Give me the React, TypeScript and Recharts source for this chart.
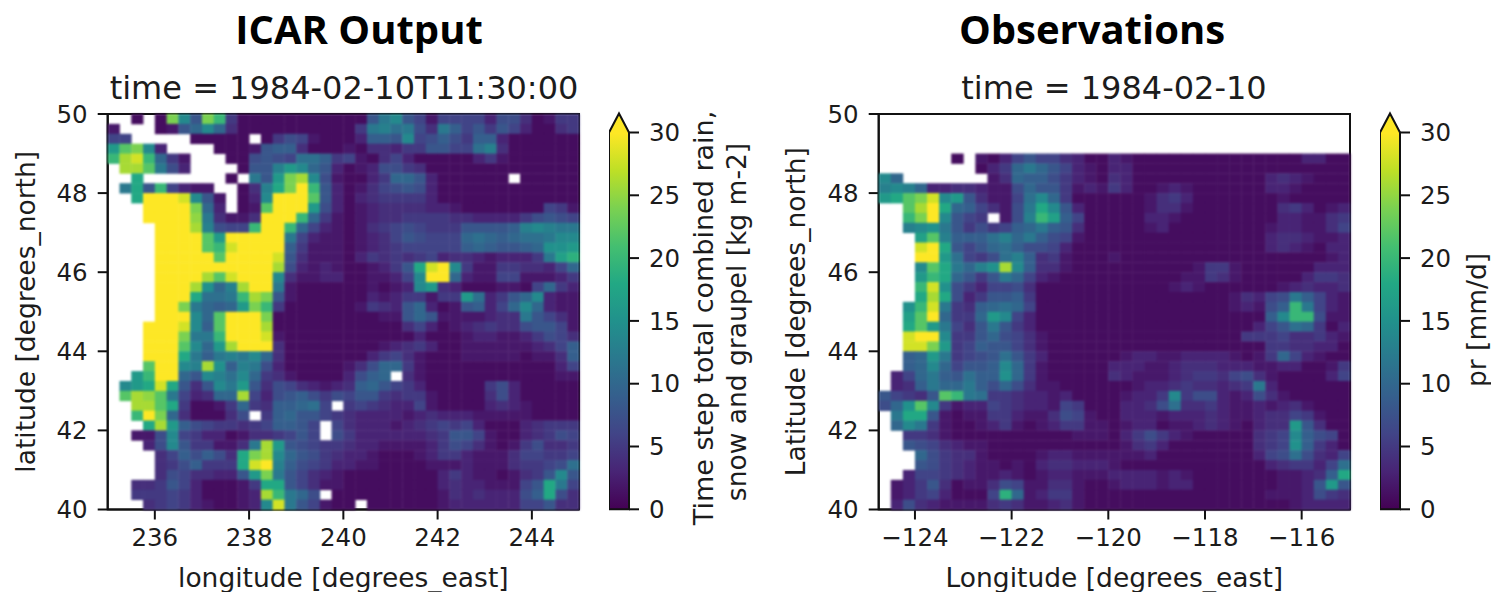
import { BarChart, Bar, ScatterChart, Scatter, XAxis, YAxis, ReferenceArea } from "recharts";

const _ = null;
type Row = (number | null)[];

// mm per cell, 0.25 degree grid, north to south
const icarRows: Row[] = [
  [_,_,1,_,1,24,14,8,24,20,5,1,1,1,1,1,1,1,1,1, 1,1,8,12,14,8,6,2,6,6,6,6,3,7,7,4,1,2,5,5],
  [2,_,_,_,1,2,8,10,14,10,4,1,1,1,1,1,1,1,1,1, 1,5,12,13,11,12,7,4,12,9,6,8,5,8,6,3,1,1,4,5],
  [6,6,_,_,_,_,_,1,1,1,1,1,_,1,5,7,6,2,1,1, 1,3,9,9,8,14,6,7,9,7,5,9,9,3,1,1,1,1,1,1],
  [16,22,24,14,3,_,_,_,_,1,1,1,2,8,9,9,4,1,1,1, 2,1,4,4,3,5,5,8,8,6,6,11,13,4,1,1,1,1,1,1],
  [20,26,28,20,10,5,2,_,_,_,1,1,7,8,7,6,11,11,9,5, 6,2,1,4,6,3,1,1,1,1,1,3,5,2,1,1,1,1,1,1],
  [_,26,26,22,12,7,3,_,_,_,_,1,8,8,13,16,14,10,8,3, 1,2,3,7,7,5,4,1,1,1,1,1,1,1,1,1,1,1,1,1],
  [_,_,18,_,_,_,_,_,_,_,1,_,12,8,16,24,26,14,7,2, 1,1,3,5,10,10,8,3,1,1,1,1,1,1,_,1,1,1,1,1],
  [_,12,18,8,20,6,3,2,2,_,_,1,4,13,18,24,30,20,8,3, 1,2,4,6,7,8,7,3,1,1,1,1,1,1,1,1,1,1,1,1],
  [_,_,18,30,30,30,28,14,8,2,_,1,3,14,30,30,30,22,8,3, 1,3,4,5,5,5,5,3,1,1,1,1,1,1,1,1,1,1,1,1],
  [_,_,_,30,30,30,30,24,10,3,_,1,2,22,30,30,30,16,7,3, 1,2,3,4,4,4,4,3,3,2,1,1,1,1,1,1,1,6,5,2],
  [_,_,_,30,30,30,30,25,12,4,2,2,4,30,30,30,20,10,5,2, 1,2,3,4,4,5,5,5,5,4,4,3,3,3,3,5,7,8,7,6],
  [_,_,_,_,30,30,30,26,13,7,6,6,20,30,30,20,10,6,3,2, 1,2,4,5,6,7,6,5,5,5,8,8,8,8,9,13,14,13,12,12],
  [_,_,_,_,30,30,30,30,22,16,30,30,30,30,30,12,6,3,2,2, 1,2,3,4,6,8,7,6,6,6,10,11,10,9,10,11,11,12,14,14],
  [_,_,_,_,30,30,30,30,22,20,28,30,30,30,30,9,5,2,2,2, 1,2,3,4,5,6,6,6,6,6,9,10,9,8,8,9,10,15,15,16],
  [_,_,_,_,30,30,30,30,30,22,30,30,30,30,28,8,4,2,2,2, 1,3,5,4,5,4,5,6,3,4,4,3,2,3,3,3,5,12,17,19],
  [_,_,_,_,30,30,30,30,30,30,30,30,30,30,26,7,3,2,3,2, 1,1,2,3,5,8,18,28,30,14,5,2,2,5,5,4,4,3,6,10],
  [_,_,_,_,30,30,30,30,26,22,28,30,30,30,14,4,2,2,3,3, 1,1,2,2,3,6,14,30,30,10,3,2,2,6,6,2,2,2,3,5],
  [_,_,_,_,30,30,30,26,15,10,13,26,30,30,12,2,1,1,1,1, 1,1,2,1,2,3,14,16,4,3,1,1,1,2,2,1,6,10,5,3],
  [_,_,_,_,30,30,30,18,11,11,12,20,26,24,8,2,1,1,1,1, 1,1,3,2,3,5,5,2,5,5,16,11,3,5,8,10,14,3,2,2],
  [_,_,_,_,30,30,24,12,10,9,10,16,24,20,5,1,1,1,1,1, 1,2,5,4,3,8,10,3,1,2,8,9,3,6,10,14,10,3,2,2],
  [_,_,_,_,30,30,30,14,10,22,30,30,30,24,1,1,1,1,1,1, 1,1,1,2,2,8,10,8,2,2,2,2,3,4,4,12,8,6,4,2],
  [_,_,_,30,30,30,28,14,9,22,30,30,30,26,1,1,1,1,1,1, 1,1,1,1,1,4,6,3,1,2,3,4,5,4,4,7,8,8,6,2],
  [_,_,_,30,30,30,24,12,12,20,30,30,30,28,2,1,1,1,1,1, 1,1,1,1,1,1,3,1,1,1,2,3,3,2,2,3,5,7,6,4],
  [_,_,_,30,30,30,22,14,10,16,26,30,30,30,4,1,1,1,1,1, 1,1,1,2,3,4,5,3,1,1,2,2,2,2,2,2,3,4,6,9],
  [_,_,_,30,30,30,18,12,9,12,13,12,14,10,4,1,1,1,1,1, 1,1,3,5,6,4,2,1,1,1,2,2,2,2,2,1,2,2,4,9],
  [_,_,_,22,30,30,14,13,26,15,9,13,12,7,3,1,1,1,1,1, 2,4,7,10,10,5,2,1,1,1,1,1,1,1,1,1,1,1,3,6],
  [_,_,16,20,30,30,10,8,14,13,11,14,10,5,4,2,1,1,1,1, 3,7,9,10,_,4,2,1,1,1,1,1,1,1,1,1,1,1,2,2],
  [_,14,16,18,28,18,8,4,8,14,12,16,8,4,7,6,4,3,2,3, 4,9,10,8,6,5,3,1,1,1,1,1,5,7,3,1,1,1,1,1],
  [_,22,26,25,22,12,6,3,4,10,10,26,6,3,7,8,9,7,5,7, 6,8,8,5,4,5,5,2,1,1,1,1,4,7,3,1,1,1,1,1],
  [_,_,26,26,22,18,5,1,1,2,5,10,5,4,9,9,10,11,6,_, 5,6,5,4,3,3,6,2,1,1,1,1,3,4,3,2,1,1,1,1],
  [_,_,20,30,24,10,4,1,1,1,4,7,_,5,9,10,8,8,6,5, 4,3,3,3,3,2,3,4,3,3,3,2,2,2,2,2,1,1,1,1],
  [_,_,_,18,26,16,9,7,6,5,5,4,5,6,9,9,8,6,_,6, 4,3,3,3,2,3,4,5,6,5,6,3,1,1,1,3,4,5,5,5],
  [_,_,2,2,7,14,6,5,3,3,1,2,4,4,5,6,8,6,_,7, 5,3,3,3,3,3,3,4,5,8,8,6,2,1,1,3,4,5,7,6],
  [_,_,_,3,7,14,8,5,5,2,2,4,12,26,16,8,7,6,5,5, 4,3,3,2,2,2,2,3,5,7,6,4,2,1,2,5,7,4,4,5],
  [_,_,_,_,4,6,9,7,9,7,4,18,24,26,14,10,8,7,5,4, 3,3,2,1,1,1,2,3,5,5,3,2,2,2,4,6,6,5,5,6],
  [_,_,_,_,4,5,7,9,5,5,5,18,28,30,13,9,7,6,5,3, 3,2,2,1,1,1,1,2,2,2,3,2,2,2,4,5,5,6,7,11],
  [_,_,_,_,4,7,6,4,4,3,3,8,16,24,12,8,6,4,3,2, 1,1,1,1,1,1,1,1,3,5,3,2,2,1,2,4,5,8,14,8],
  [_,_,4,4,5,8,6,3,1,1,1,2,5,18,18,8,6,4,2,2, 1,1,1,1,1,1,1,1,3,4,3,3,2,2,2,6,8,18,12,6],
  [_,_,5,5,5,6,5,3,1,1,1,2,3,26,20,12,10,7,_,1, 1,1,1,1,1,1,1,1,2,4,3,4,3,3,3,7,9,18,7,4],
  [_,_,_,4,5,6,5,3,2,1,1,2,3,14,28,12,8,6,2,1, 1,_,1,1,1,1,1,1,2,3,3,3,3,3,3,6,6,8,4,4],
];

const obsRows: Row[] = [
  [],
  [],
  [],
  [],
  [_,_,_,_,_,_,1,_,2,1,3,6,8,6,6,4,3,1,1, 3,2,1,1,1,1,1,1,1,1,1,1,1,1,1,1,3,3,1,1],
  [_,_,_,_,_,_,_,_,1,3,5,10,12,10,8,6,3,2,1, 3,3,1,1,1,1,1,1,1,1,1,1,1,1,1,1,1,1,1,1],
  [14,10,_,_,_,_,_,_,_,2,4,10,9,9,7,5,3,2,1, 4,3,1,1,1,1,1,1,1,1,1,1,1,3,4,3,2,1,1,1],
  [13,14,13,10,3,3,4,4,3,2,2,7,10,8,8,5,2,3,2, 5,3,1,1,2,3,2,1,1,1,1,1,1,3,3,2,1,1,1,1],
  [16,18,22,24,28,14,16,8,4,2,2,6,11,14,10,5,1,1,1, 1,1,1,2,4,5,3,1,1,1,1,1,1,1,2,1,1,1,1,1],
  [_,_,22,26,30,18,10,9,6,4,2,7,12,18,14,8,3,1,1, 1,1,1,2,4,4,2,1,1,1,1,1,1,1,4,5,3,1,2,3],
  [_,_,20,24,30,14,8,6,5,_,2,7,13,20,17,9,6,1,1, 1,1,1,3,3,2,1,1,1,1,1,1,1,1,3,3,2,2,4,5],
  [_,_,13,14,15,12,8,5,7,5,6,9,10,12,9,8,4,1,1, 1,1,1,2,3,1,1,1,1,1,1,1,1,2,3,3,2,2,4,6],
  [_,_,_,17,22,13,9,9,9,11,13,10,12,9,7,6,2,1,1, 1,1,1,1,1,1,1,1,1,1,1,1,1,3,4,4,3,2,2,3],
  [_,_,_,28,30,18,8,6,8,10,11,9,7,7,6,3,1,1,1, 1,1,1,1,1,1,1,1,1,1,1,1,1,3,4,3,2,1,3,3],
  [_,_,_,30,30,16,11,6,5,7,11,13,9,4,5,2,1,1,1, 2,1,1,1,1,1,1,1,1,1,1,1,1,1,1,1,1,1,2,3],
  [_,_,_,14,22,18,12,10,13,15,26,14,9,4,4,2,1,1,1, 1,1,1,1,1,1,1,2,5,5,2,1,1,1,1,1,1,3,3,3],
  [_,_,_,16,20,18,10,8,5,8,12,10,6,3,2,1,1,1,1, 1,1,1,1,1,1,2,2,5,4,2,1,1,1,1,1,3,5,5,4],
  [_,_,_,20,28,15,7,5,3,6,6,7,4,1,1,1,1,1,1, 1,1,1,1,1,2,3,2,1,1,1,1,1,1,2,3,4,3,3,4],
  [_,_,_,18,26,18,7,3,5,8,8,9,5,1,1,1,1,1,1, 1,1,1,1,1,1,1,1,1,1,2,4,3,6,7,12,9,6,3,2],
  [_,_,15,20,28,12,5,4,9,10,11,10,6,1,1,1,1,1,1, 1,1,1,1,1,1,1,1,1,1,2,3,2,7,9,20,12,6,3,2],
  [_,_,17,22,30,10,5,5,10,16,14,6,3,1,1,1,1,1,1, 1,1,1,1,1,1,1,1,1,1,1,1,1,9,14,20,20,7,2,2],
  [_,_,18,22,16,12,6,4,8,12,8,5,3,1,1,1,1,1,1, 1,1,1,1,1,1,1,1,1,1,1,1,3,6,8,11,10,5,1,3],
  [_,_,28,30,30,14,5,5,8,10,7,6,4,2,1,1,1,1,1, 1,1,1,1,1,1,1,1,1,1,1,5,5,5,6,4,4,5,3,2],
  [_,_,28,28,24,16,5,6,9,8,8,6,4,2,1,1,1,1,1, 1,1,1,1,1,1,1,1,1,1,1,1,1,5,5,4,4,3,3,1],
  [_,_,9,10,16,12,5,6,7,8,11,8,5,3,1,1,1,1,1, 1,2,3,3,2,2,3,3,3,3,2,1,2,5,10,6,3,2,1,1],
  [_,_,9,10,14,10,6,8,8,9,14,10,5,2,1,1,1,1,1, 3,3,3,2,2,3,4,4,4,3,3,3,2,2,3,3,1,1,2,5],
  [_,3,6,10,12,9,8,11,9,9,15,10,5,2,1,1,1,1,1, 4,3,2,2,2,3,4,5,5,4,6,7,4,2,1,1,1,1,3,6],
  [_,3,4,9,12,10,10,12,9,7,10,7,4,2,2,1,1,1,1, 1,1,2,3,3,4,5,4,4,3,4,5,12,3,1,1,1,1,1,1],
  [8,6,5,4,8,22,20,12,11,5,5,4,3,3,2,3,1,1,1, 1,2,3,3,5,14,5,7,7,3,2,3,7,4,2,1,1,1,1,1],
  [7,10,15,22,14,5,2,3,3,6,5,4,3,3,2,6,5,1,1, 1,3,3,4,7,11,4,4,5,3,2,2,3,2,3,4,2,1,1,1],
  [_,12,18,18,8,2,1,2,2,5,5,3,2,2,4,7,6,2,1, 1,3,3,3,2,3,3,3,4,3,2,2,3,4,4,6,5,2,1,1],
  [_,10,14,12,5,2,1,1,2,3,5,2,1,2,3,5,5,2,2, 1,2,3,3,1,2,2,3,4,3,2,1,3,4,4,16,8,4,1,1],
  [_,_,5,5,4,2,1,1,1,1,1,1,1,1,1,1,2,2,2, 1,3,5,7,5,3,2,1,1,1,1,1,4,5,6,14,9,7,6,1],
  [_,_,8,7,6,4,3,2,2,1,1,1,1,1,1,1,1,1,1, 1,2,4,5,3,1,1,1,1,1,1,1,4,5,6,15,9,5,3,1],
  [_,_,_,10,7,5,4,4,2,1,1,1,1,2,3,3,2,2,2, 2,2,2,3,1,1,1,1,1,1,1,1,3,6,7,11,7,4,3,6],
  [_,_,_,8,7,5,4,3,2,2,1,2,1,3,4,4,3,3,3, 2,1,1,1,1,1,1,1,1,1,1,1,1,3,4,5,5,3,6,11],
  [_,_,3,6,6,5,4,3,2,2,3,2,1,2,3,3,2,2,2, 3,3,3,3,2,3,2,1,1,1,1,1,1,1,2,2,3,4,9,18],
  [_,2,3,5,8,4,1,2,2,4,7,6,2,2,4,4,2,1,1, 2,3,3,3,2,3,3,1,1,1,1,1,1,1,2,2,3,8,16,8],
  [_,2,3,5,6,3,1,1,1,6,19,10,2,3,5,5,2,1,1, 1,1,1,1,1,1,1,1,1,1,1,1,1,2,2,2,3,7,5,4],
  [_,3,7,4,3,2,2,2,2,4,5,4,2,2,3,4,2,1,1, 1,1,1,1,1,1,1,1,1,1,1,1,1,1,1,2,3,3,3,3],
];

const icarLonTicks = [236, 238, 240, 242, 244];
const obsLonTicks = [-124, -122, -120, -118, -116];
const latTicks = [40, 42, 44, 46, 48, 50];
const colorTicks = [0, 5, 10, 15, 20, 25, 30];
const viridis = ["#440154", "#482475", "#414487", "#355f8d", "#2a788e", "#21918c", "#22a884", "#44bf70", "#7ad151", "#bddf26", "#fde725"];

const FONT = "DejaVu Sans";
const INK = "#1c1c1c";
const TICK_FONT = 24.5;
const LABEL_FONT = 26.5;
const CELL_DEG = 0.25;

function toCells(rows: Row[], lonStart: number) {
  const cells: { lon: number; lat: number; value: number }[] = [];
  rows.forEach((row, r) =>
    row.forEach((value, c) => {
      if (value !== null) cells.push({ lon: lonStart + (c + 0.5) * CELL_DEG, lat: 50 - (r + 0.5) * CELL_DEG, value });
    })
  );
  return cells;
}

function colorOf(value: number) {
  const t = (Math.min(value, 30) / 30) * (viridis.length - 1);
  const i = Math.min(Math.floor(t), viridis.length - 2);
  const f = t - i;
  const a = viridis[i];
  const b = viridis[i + 1];
  const mix = (p: number) =>
    Math.round(parseInt(a.slice(p, p + 2), 16) * (1 - f) + parseInt(b.slice(p, p + 2), 16) * f);
  return `rgb(${mix(1)},${mix(3)},${mix(5)})`;
}

const minus = (v: number) => String(v).replace("-", "\u2212");

function Panel(props: {
  left: number;
  width: number;
  rows: Row[];
  lonStart: number;
  lonEnd: number;
  lonTicks: number[];
  xLabel: string;
  yLabel: string;
  cellW: number;
  yAxisW: number;
}) {
  const { left, width, rows, lonStart, lonEnd, lonTicks, xLabel, yLabel, cellW, yAxisW } = props;
  const cellH = 9.89;
  const drawCell = (p: any) => (
    <rect x={p.cx - cellW / 2} y={p.cy - cellH / 2} width={cellW + 0.4} height={cellH + 0.4} fill={colorOf(p.payload.value)} />
  );
  const tick = { fontSize: TICK_FONT, fontFamily: FONT, fill: INK };
  const axisLabelStyle = { fontSize: LABEL_FONT, fontFamily: FONT, fill: INK, textAnchor: "middle" as const };
  return (
    <div style={{ position: "absolute", left, top: 0 }}>
      <ScatterChart width={width} height={592} margin={{ top: 114, right: 12, bottom: 0, left: 0 }}>
        <XAxis
          type="number"
          dataKey="lon"
          domain={[lonStart, lonEnd]}
          ticks={lonTicks}
          tickFormatter={minus}
          tick={tick}
          tickSize={10}
          tickMargin={9}
          height={82.5}
          stroke="#111"
          strokeWidth={2}
          label={{ value: xLabel, position: "insideBottom", offset: 5, style: axisLabelStyle }}
        />
        <YAxis
          type="number"
          dataKey="lat"
          domain={[40, 50]}
          ticks={latTicks}
          tick={tick}
          tickSize={10}
          tickMargin={10}
          width={yAxisW}
          stroke="#111"
          strokeWidth={2}
          label={{ value: yLabel, angle: -90, position: "insideLeft", offset: 26, style: axisLabelStyle }}
        />
        <Scatter className="heat" data={toCells(rows, lonStart)} shape={drawCell} isAnimationActive={false} />
        <ReferenceArea x1={lonStart} x2={lonEnd} y1={40} y2={50} fill="none" stroke="#111" strokeWidth={2} />
      </ScatterChart>
    </div>
  );
}

function ColorBar(props: { left: number; id: string }) {
  const { left, id } = props;
  const tip = 19;
  const drawBar = (p: any) => (
    <path
      d={`M${p.x},${p.y + p.height} L${p.x},${p.y} L${p.x + p.width / 2},${p.y - tip} L${p.x + p.width},${p.y} L${p.x + p.width},${p.y + p.height} Z`}
      fill={`url(#${id})`}
      stroke="#111"
      strokeWidth={2}
    />
  );
  return (
    <div style={{ position: "absolute", left, top: 0 }}>
      <BarChart
        width={80}
        height={592}
        data={[{ name: "scale", value: 30 }]}
        margin={{ top: 132.5, right: 0, bottom: 82.7, left: 0 }}
        barCategoryGap={0}
      >
        <defs>
          <linearGradient id={id} x1="0" y1="1" x2="0" y2="0">
            {viridis.map((c, i) => (
              <stop key={c} offset={(i / 10) * 0.95} stopColor={c} />
            ))}
          </linearGradient>
        </defs>
        <XAxis dataKey="name" hide />
        <YAxis
          orientation="right"
          domain={[0, 30]}
          ticks={colorTicks}
          width={60}
          tick={{ fontSize: TICK_FONT, fontFamily: FONT, fill: INK }}
          tickSize={10}
          tickMargin={10}
          axisLine={false}
          tickLine={{ stroke: "#111", strokeWidth: 2 }}
          interval={0}
        />
        <Bar dataKey="value" shape={drawBar} isAnimationActive={false} />
      </BarChart>
    </div>
  );
}

function Caption(props: { x: number; y: number; size: number; bold?: boolean; family?: string; rotate?: boolean; children: string }) {
  const { x, y, size, bold, family, rotate, children } = props;
  return (
    <div
      style={{
        position: "absolute",
        left: x,
        top: y,
        transform: `translate(-50%, -50%)${rotate ? " rotate(-90deg)" : ""}`,
        whiteSpace: "nowrap",
        fontFamily: family ?? FONT,
        fontSize: size,
        fontWeight: bold ? 700 : 400,
        color: bold ? "#000" : INK,
        lineHeight: 1,
      }}
    >
      {children}
    </div>
  );
}

export default function App() {
  return (
    <div style={{ position: "absolute", left: 0, top: 0, width: 1491, height: 592, background: "#fff", overflow: "hidden" }}>
      <style>{`.heat { filter: blur(1.1px); }`}</style>
      <Caption x={359} y={29} size={40} bold family="Open Sans">ICAR Output</Caption>
      <Caption x={1092} y={29} size={40} bold family="Open Sans">Observations</Caption>
      <Caption x={344} y={88} size={32}>time = 1984-02-10T11:30:00</Caption>
      <Caption x={1114} y={88} size={32}>time = 1984-02-10</Caption>

      <Panel
        left={0}
        width={591}
        rows={icarRows}
        lonStart={235}
        lonEnd={245}
        lonTicks={icarLonTicks}
        xLabel="longitude [degrees_east]"
        yLabel="latitude [degrees_north]"
        cellW={11.78}
        yAxisW={107.7}
      />
      <Panel
        left={770}
        width={592}
        rows={obsRows}
        lonStart={-124.75}
        lonEnd={-115}
        lonTicks={obsLonTicks}
        xLabel="Longitude [degrees_east]"
        yLabel="Latitude [degrees_north]"
        cellW={12.09}
        yAxisW={108.7}
      />

      <ColorBar left={608.7} id="cbLeft" />
      <ColorBar left={1380} id="cbRight" />

      <Caption x={703} y={318} size={27} rotate>Time step total combined rain,</Caption>
      <Caption x={737} y={322} size={26.5} rotate>snow and graupel [kg m-2]</Caption>
      <Caption x={1477} y={320} size={26.5} rotate>pr [mm/d]</Caption>
    </div>
  );
}
